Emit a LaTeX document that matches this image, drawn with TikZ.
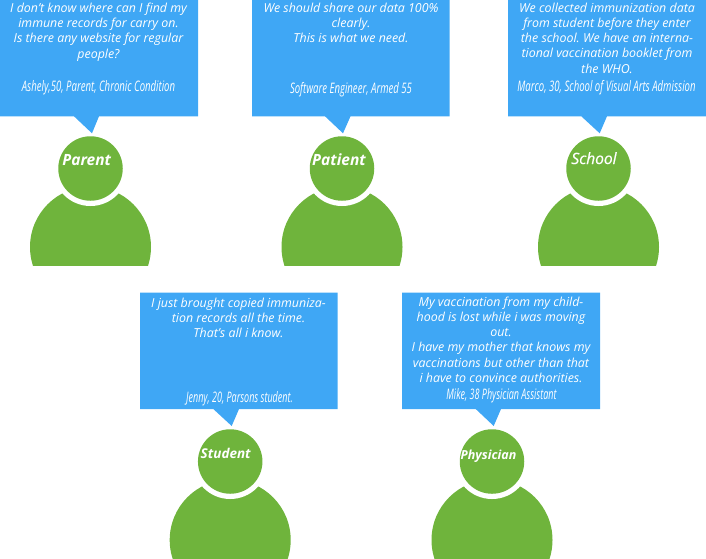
\documentclass[tikz,border=0pt]{standalone}
\usepackage{fontspec}
\setmainfont{Open Sans}
\frenchspacing
\definecolor{bubble}{HTML}{3FA7F5}
\definecolor{person}{HTML}{6FB43C}
\tikzset{
  x=1pt,y=-1pt,
  quote/.style={text=white,align=center,inner sep=0pt,anchor=base,font=\fontsize{12.4}{15.3}\selectfont\itshape},
  byline/.style={text=white,inner sep=0pt,anchor=base,font=\fontsize{14.5}{15}\selectfont\itshape},
  role/.style={text=white,inner sep=0pt,anchor=base,font=\bfseries\itshape}
}
% bubble: left, right, bottom y, top y, tail left, tail right, tip x
\newcommand{\speechbox}[7]{%
  \fill[bubble] (#1,#4) -- (#2,#4) -- (#2,#3) -- (#6,#3) -- (#7,#3+17) -- (#5,#3) -- (#1,#3) -- cycle;}
% person: id, head centre x, head centre y
\newcommand{\personfig}[3]{%
  \begin{scope}
    \clip (#2-62,#3+11) rectangle (#2+62,#3+96.5);
    \fill[person] (#2,#3+78.5) circle[radius=60.5];
    \fill[white] (#2,#3) circle[radius=37.5];
  \end{scope}
  \node[circle,fill=person,minimum size=64.5pt,inner sep=0pt] (#1) at (#2,#3) {};}
\newcommand{\thin}[2]{\scalebox{#1}[1]{#2}}
\begin{document}
\begin{tikzpicture}
\useasboundingbox (0,0) rectangle (706,558);
\speechbox{0}{198}{116.3}{0}{74}{99}{92}
\speechbox{252}{449.7}{116.3}{0}{325}{350.5}{343}
\speechbox{508}{706}{116.3}{0}{581.3}{607}{599.7}
\speechbox{140}{337.7}{409}{292.7}{213.3}{239}{231.7}
\speechbox{402}{600}{409}{292.7}{475.7}{501}{493.7}
\personfig{headA}{90.5}{168.5}
\personfig{headB}{342}{168.5}
\personfig{headC}{598.5}{168.5}
\personfig{headD}{230.2}{461.5}
\personfig{headE}{492}{461.5}
\node[quote] (qA) at (98.5,58) {I don’t know where can I find my\\immune records for carry on.\\Is there any website for regular\\people?};
\node[byline] (bA) at (98.5,91) {\thin{0.66}{Ashely,50, Parent, Chronic Condition}};
\node[quote] (qB) at (351,42.6) {We should share our data 100\%\\clearly.\\This is what we need.};
\node[byline] (bB) at (351,93) {\thin{0.66}{Software Engineer, Armed 55}};
\node[quote] (qC) at (607,73.2) {We collected immunization data\\from student before they enter\\the school. We have an interna-\\tional vaccination booklet from\\the WHO.};
\node[byline] (bC) at (606.5,91) {\thin{0.66}{Marco, 30, School of Visual Arts Admission}};
\node[quote] (qD) at (238.5,337.6) {I just brought copied immuniza-\\tion records all the time.\\That’s all i know.};
\node[byline] (bD) at (239.5,402) {\thin{0.62}{Jenny, 20, Parsons student.}};
\node[quote] (qE) at (501,382.5) {My vaccination from my child-\\hood is lost while i was moving\\out.\\I have my mother that knows my\\vaccinations but other than that\\i have to convince authorities.};
\node[byline] (bE) at (501.5,399) {\thin{0.62}{Mike, 38 Physician Assistant}};
\node[role,font=\fontsize{15.5}{18}\selectfont\bfseries\itshape] (rA) at (86.7,165) {Parent};
\node[role,font=\fontsize{15.5}{18}\selectfont\bfseries\itshape] (rB) at (339,165) {Patient};
\node[role,font=\fontsize{15.5}{18}\selectfont\itshape\addfontfeature{FakeBold=0.6}] (rC) at (594,164) {School};
\node[role,font=\fontsize{13.5}{16}\selectfont\bfseries\itshape] (rD) at (225.7,458) {Student};
\node[role,font=\fontsize{12.5}{16}\selectfont\bfseries\itshape] (rE) at (488.5,459) {Physician};
\end{tikzpicture}
\end{document}
